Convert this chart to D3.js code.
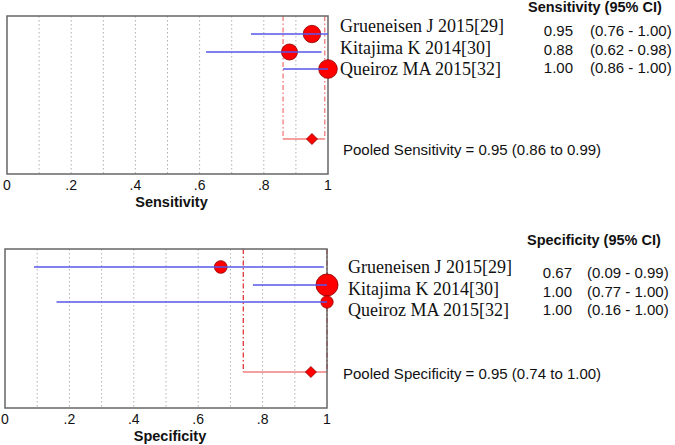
<!DOCTYPE html>
<html>
<head>
<meta charset="utf-8">
<script src="https://cdn.jsdelivr.net/npm/d3@7"></script>
<style>
  body { margin: 0; background: #fff; }
  svg { display: block; }
</style>
</head>
<body>
<svg id="chart" width="675" height="445"></svg>
<script>
// study data
const studies = ["Grueneisen J 2015[29]", "Kitajima K 2014[30]", "Queiroz MA 2015[32]"];

const sensEst = [0.95, 0.88, 1.00];
const sensLo = [0.76, 0.62, 0.86];
const sensHi = [1.00, 0.98, 1.00];
const sensWeight = [33.5, 28.5, 38.5];
const sensPooled = [0.95, 0.86, 0.99];

const specEst = [0.67, 1.00, 1.00];
const specLo = [0.09, 0.77, 0.16];
const specHi = [0.99, 1.00, 1.00];
const specWeight = [18, 54, 17];
const specPooled = [0.95, 0.74, 1.00];

const tickValues = [0, 0.2, 0.4, 0.6, 0.8, 1];
const tickLabels = ["0", ".2", ".4", ".6", ".8", "1"];
const gridValues = [0.1, 0.2, 0.3, 0.4, 0.5, 0.6, 0.7, 0.8, 0.9];

const fmt = d3.format(".2f");
const svg = d3.select("#chart");
const rScale = d3.scaleSqrt().domain([0, 100]).range([0, 15]);
const sans = "Liberation Sans, Arial, sans-serif";

function drawPanel(p) {
  const x = d3.scaleLinear().domain([0, 1]).range([p.left, p.right]);
  const y = i => Math.round(p.top + 18 + i * 17.5);
  const yPooled = p.top + 123;
  const g = svg.append("g");

  // dotted grid
  g.selectAll("line.grid").data(gridValues).join("line")
    .attr("class", "grid")
    .attr("x1", d => x(d)).attr("x2", d => x(d))
    .attr("y1", p.top).attr("y2", p.bottom)
    .attr("stroke", "#b0b0b0").attr("stroke-width", 1)
    .attr("stroke-dasharray", "1.5,2.5");

  // pooled CI verticals + bracket
  g.selectAll("line.pv").data([p.pooled[1], p.pooled[2]]).join("line")
    .attr("class", "pv")
    .attr("x1", d => x(d)).attr("x2", d => x(d))
    .attr("y1", p.top).attr("y2", yPooled)
    .attr("stroke", p.dashColor).attr("stroke-width", 1.2)
    .attr("stroke-dasharray", "5,2.5,1.5,2.5");
  g.append("line")
    .attr("x1", x(p.pooled[1])).attr("x2", x(p.pooled[2]))
    .attr("y1", yPooled).attr("y2", yPooled)
    .attr("stroke", "#ee4040").attr("stroke-width", 1.2);

  // box
  g.append("rect")
    .attr("x", p.left).attr("y", p.top)
    .attr("width", p.right - p.left).attr("height", p.bottom - p.top)
    .attr("fill", "none").attr("stroke", "#666").attr("stroke-width", 1.5);

  // study markers
  g.selectAll("circle").data(studies).join("circle")
    .attr("cx", (d, i) => x(p.est[i])).attr("cy", (d, i) => y(i))
    .attr("r", (d, i) => rScale(p.weight[i]))
    .attr("fill", "#ff0000").attr("stroke", "#8a0000").attr("stroke-width", 0.8);

  // CI lines (drawn over the markers)
  g.selectAll("line.ci").data(studies).join("line")
    .attr("class", "ci")
    .attr("x1", (d, i) => x(p.lo[i])).attr("x2", (d, i) => x(p.hi[i]))
    .attr("y1", (d, i) => y(i)).attr("y2", (d, i) => y(i))
    .attr("stroke", "#5656ea").attr("stroke-width", 1.5);

  // pooled diamond
  const dx = x(p.pooled[0]), s = 5.5;
  g.append("path")
    .attr("d", `M${dx},${yPooled - s}L${dx + s},${yPooled}L${dx},${yPooled + s}L${dx - s},${yPooled}Z`)
    .attr("fill", "#ff0000").attr("stroke", "#8a0000").attr("stroke-width", 0.8);

  // axis labels
  g.selectAll("text.tick").data(tickValues).join("text")
    .attr("class", "tick")
    .attr("x", d => x(d)).attr("y", p.bottom + 16)
    .attr("text-anchor", "middle")
    .attr("font-family", sans).attr("font-size", 14)
    .attr("fill", "#111")
    .text((d, i) => tickLabels[i]);
  g.append("text")
    .attr("x", (p.left + p.right) / 2 + 4).attr("y", p.bottom + 33)
    .attr("text-anchor", "middle")
    .attr("font-family", sans).attr("font-size", 14.5)
    .attr("font-weight", "bold").attr("fill", "#111")
    .text(p.title);

  // right-hand text
  g.append("text")
    .attr("x", p.headerX).attr("y", p.top - 4)
    .attr("font-family", sans).attr("font-size", 14.5)
    .attr("font-weight", "bold").attr("fill", "#111")
    .text(p.title + " (95% CI)");

  g.selectAll("text.study").data(studies).join("text")
    .attr("class", "study")
    .attr("x", p.labelX).attr("y", (d, i) => p.top + p.labelOff + i * 21.5)
    .attr("font-family", "Liberation Serif, serif").attr("font-size", 18)
    .attr("fill", "#111")
    .text(d => d);

  g.selectAll("text.est").data(studies).join("text")
    .attr("class", "est")
    .attr("x", p.valX).attr("y", (d, i) => p.top + p.valOff + i * 18.7)
    .attr("text-anchor", "end")
    .attr("font-family", sans).attr("font-size", 15)
    .attr("fill", "#111")
    .text((d, i) => fmt(p.est[i]));

  g.selectAll("text.ci").data(studies).join("text")
    .attr("class", "ci")
    .attr("x", p.ciX).attr("y", (d, i) => p.top + p.valOff + i * 18.7)
    .attr("font-family", sans).attr("font-size", 15)
    .attr("fill", "#111")
    .text((d, i) => `(${fmt(p.lo[i])} - ${fmt(p.hi[i])})`);

  g.append("text")
    .attr("x", 343).attr("y", p.top + p.pooledOff)
    .attr("font-family", sans).attr("font-size", 15)
    .attr("fill", "#111")
    .text(`Pooled ${p.title} = ${fmt(p.pooled[0])} (${fmt(p.pooled[1])} to ${fmt(p.pooled[2])})`);
}

drawPanel({
  title: "Sensitivity", est: sensEst, lo: sensLo, hi: sensHi, weight: sensWeight, pooled: sensPooled,
  left: 7, right: 328, top: 16, bottom: 174, dashColor: "#f07070",
  headerX: 528, labelX: 340, labelOff: 16, valX: 573, ciX: 590, valOff: 20, pooledOff: 139
});
drawPanel({
  title: "Specificity", est: specEst, lo: specLo, hi: specHi, weight: specWeight, pooled: specPooled,
  left: 5, right: 327, top: 249, bottom: 408, dashColor: "#e02828",
  headerX: 527, labelX: 348, labelOff: 24, valX: 572, ciX: 587, valOff: 29, pooledOff: 130
});
</script>
</body>
</html>
